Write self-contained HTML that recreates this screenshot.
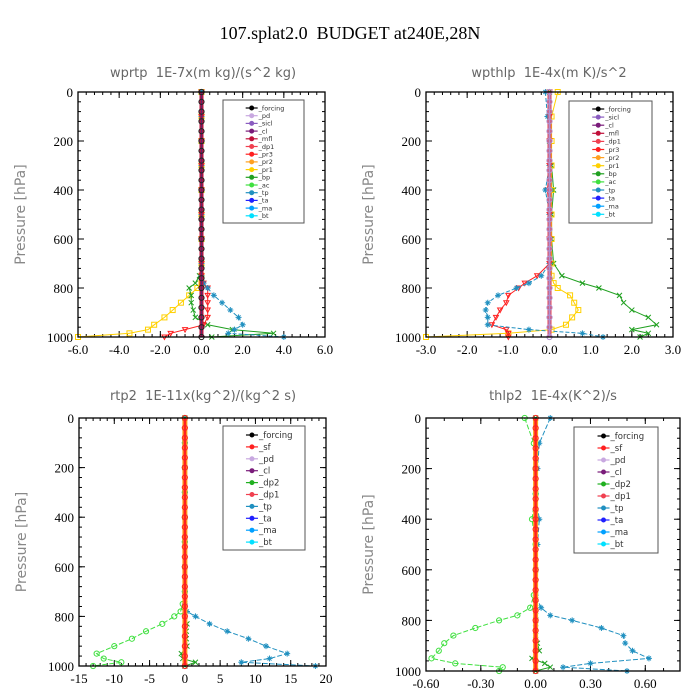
<!DOCTYPE html>
<html><head><meta charset="utf-8">
<style>
html,body{margin:0;padding:0;background:#fff;}
svg{display:block;}
text{white-space:pre;}
.tk{font-family:"Liberation Serif",serif;font-size:13px;fill:#000;}
.ttl{font-family:"DejaVu Sans","Liberation Sans",sans-serif;font-size:13px;fill:#666;}
.yl{font-family:"DejaVu Sans","Liberation Sans",sans-serif;font-size:14px;fill:#888;}
.lg{font-family:"DejaVu Sans","Liberation Sans",sans-serif;fill:#333;}
</style></head>
<body>
<svg id="chart" width="700" height="700" viewBox="0 0 700 700">
<text x="350" y="39" text-anchor="middle" font-family="Liberation Serif,serif" font-size="18" xml:space="preserve">107.splat2.0  BUDGET at240E,28N</text>
</svg>
<script>
// ---------- data ----------
const levelsDense = [0,40,80,120,160,200,240,280,320,360,400,440,480,520,560,600,640,680,720,760,800,840,880,920,960,1000];
const zerosDense  = [0,0,0,0,0,0,0,0,0,0,0,0,0,0,0,0,0,0,0,0,0,0,0,0,0,0];
const levelsLow = [0,100,200,300,400,500,600,700,750,780,800,830,860,890,920,950,970,985,1000];

// panel 1: wprtp
const p1Pr1 = [0,0,0,0,0,0,0,0,0,0,-0.2,-0.6,-1.0,-1.4,-1.8,-2.3,-2.6,-3.5,-6.0];
const p1Bp  = [0,0,0,0,0,0,0,0,-0.1,-0.3,-0.6,-0.5,-0.5,-0.4,-0.3,0.3,1.5,3.5,0.5];
const p1Pr3 = [0,0,0,0,0,0,0,0,0,0.1,0.3,0.3,0.3,0.3,0.3,0.1,-0.8,-1.5,-1.8];
const p1Tp  = [0,0,0,0,0,0,0,0,0,0.1,0.3,0.6,1.0,1.4,1.8,2.0,1.6,1.3,4.0];

// panel 2: wpthlp
const p2Bp  = [0,0,0,0.05,0.1,0.05,0.05,0.1,0.3,0.8,1.2,1.7,1.8,2.0,2.4,2.6,2.0,2.4,2.2];
const p2Pr1 = [0.2,0.05,0.05,0.05,0.05,0.05,0.05,0.05,0.05,0.1,0.2,0.5,0.6,0.7,0.55,0.4,0.05,-1.0,-3.0];
const p2Pr3 = [0,0,0,0,-0.05,0,0,0,-0.3,-0.6,-0.75,-1.0,-1.05,-1.2,-1.3,-1.4,-1.05,-1.0,-1.0];
const p2Tp  = [-0.1,-0.05,0,0,-0.1,0,0,0,-0.2,-0.5,-0.8,-1.25,-1.5,-1.55,-1.5,-1.5,-0.5,0.8,1.3];

// panel 3: rtp2
const p3Dp1 = [0,0,0,0,0,0,0,0,-0.3,-0.6,-1.5,-3.2,-5.5,-7.5,-10,-12.5,-11.5,-9,-13];
const p3Tp  = [0,0,0,0,0,0,0,0,0,0.3,1.5,3.5,6,9,11.5,14.5,12,8,18.5];
const p3Dp2 = [0,0,0,0,0,0,0,0,0,0,0,0.3,0.2,0.2,0.3,-0.5,-0.3,1.5,0];

// panel 4: thlp2
const p4Dp1 = [-0.06,-0.01,0,0,-0.02,0,0,-0.01,-0.03,-0.1,-0.2,-0.33,-0.45,-0.5,-0.53,-0.57,-0.44,-0.18,-0.2];
const p4Tp  = [0.08,0.02,0.01,0,0.02,0.01,0,0,0.03,0.08,0.2,0.36,0.48,0.49,0.53,0.62,0.3,0.15,0.5];
const p4Dp2 = [0,0,0,0,0,0,0,0,0,0,0,0,0,0.01,0.02,-0.02,0.05,0.08,0];

const legend1 = ["_forcing","_pd","_sicl","_cl","_mfl","_dp1","_pr3","_pr2","_pr1","_bp","_ac","_tp","_ta","_ma","_bt"];
const legend2 = ["_forcing","_sicl","_cl","_mfl","_dp1","_pr3","_pr2","_pr1","_bp","_ac","_tp","_ta","_ma","_bt"];
const legend3 = ["_forcing","_sf","_pd","_cl","_dp2","_dp1","_tp","_ta","_ma","_bt"];
const legend4 = legend3;
const xTicks1 = [-6,-4,-2,0,2,4,6];
const xTickLabels1 = ["-6.0","-4.0","-2.0","0.0","2.0","4.0","6.0"];
const xTicks2 = [-3,-2,-1,0,1,2,3];
const xTickLabels2 = ["-3.0","-2.0","-1.0","0.0","1.0","2.0","3.0"];
const xTicks3 = [-15,-10,-5,0,5,10,15,20];
const xTickLabels3 = ["-15","-10","-5","0","5","10","15","20"];
const xTicks4 = [-0.6,-0.3,0,0.3,0.6];
const xTickLabels4 = ["-0.60","-0.30","0.00","0.30","0.60"];
const yTicks = [0,200,400,600,800,1000];

const colorMap = {"_forcing":"#000","_pd":"#c8a8e0","_sicl":"#8a5cc0","_cl":"#7a1c7a","_mfl":"#c0103a","_dp1":"#f04050","_pr3":"#ff2020","_pr2":"#ffa020","_pr1":"#ffd000","_bp":"#20a020","_ac":"#40e040","_tp":"#2090c0","_ta":"#2020ff","_ma":"#00a0ff","_bt":"#00e0ff","_sf":"#ff2020","_dp2":"#20b020"};

const svg = document.getElementById('chart');
const NS = 'http://www.w3.org/2000/svg';
function mk(tag, attrs, parent){const e=document.createElementNS(NS,tag);for(const k in attrs)e.setAttribute(k,attrs[k]);(parent||svg).appendChild(e);return e;}

function panel(cfg){
  const g = mk('g',{});
  
  
  const {x0,x1,y0,y1,xmin,xmax} = cfg;
  const sx = v => x0 + (v - xmin) / (xmax - xmin) * (x1 - x0);
  const sy = p => y0 + p / 1000 * (y1 - y0);
  const t = mk('text',{x:cfg.titleX,y:cfg.titleY,'text-anchor':'middle',class:'ttl'},g);
  t.textContent = cfg.title;
  
  
  const yl = mk('text',{x:0,y:0,'text-anchor':'middle',class:'yl',transform:`translate(${x0-53},${(y0+y1)/2}) rotate(-90)`},g);
  yl.textContent = 'Pressure [hPa]';
  
  
  for (let p = 0; p <= 1000; p += 40) {
    mk('line',{x1:x0,x2:x0+3,y1:sy(p),y2:sy(p),stroke:'#000','stroke-width':1},g);
    mk('line',{x1:x1,x2:x1-3,y1:sy(p),y2:sy(p),stroke:'#000','stroke-width':1},g);
  }
  yTicks.forEach(p=>{
    mk('line',{x1:x0,x2:x0+6,y1:sy(p),y2:sy(p),stroke:'#000'},g);
    mk('line',{x1:x1,x2:x1-6,y1:sy(p),y2:sy(p),stroke:'#000'},g);
    const tl = mk('text',{x:x0-5,y:sy(p)+5,'text-anchor':'end',class:'tk'},g);
    tl.textContent = p;
    
    
  });
  const step = (cfg.xTicks[1]-cfg.xTicks[0])/cfg.minorN;
  for (let v = xmin; v <= xmax + 1e-9; v += step) {
    mk('line',{x1:sx(v),x2:sx(v),y1:y1,y2:y1-3,stroke:'#000'},g);
    mk('line',{x1:sx(v),x2:sx(v),y1:y0,y2:y0+3,stroke:'#000'},g);
  }
  cfg.xTicks.forEach((v,i)=>{
    mk('line',{x1:sx(v),x2:sx(v),y1:y1,y2:y1-6,stroke:'#000'},g);
    mk('line',{x1:sx(v),x2:sx(v),y1:y0,y2:y0+6,stroke:'#000'},g);
    const tl = mk('text',{x:sx(v),y:y1+17,'text-anchor':'middle',class:'tk'},g);
    tl.textContent = cfg.xTickLabels[i];
    
    
  });
  cfg.series.forEach(s=>{
    const pts = s.levels.map((p,i)=>sx(s.values[i]).toFixed(1)+','+sy(p).toFixed(1)).join(' ');
    const pl = mk('polyline',{points:pts,fill:'none',stroke:s.color,'stroke-width':s.width||1,'stroke-dasharray':s.dash||'none'},g);
    
    
    s.levels.forEach((p,i)=>{
      const cx = sx(s.values[i]), cy = sy(p);
      if (s.marker==='circle') mk('circle',{cx,cy,r:2.6,fill:'none',stroke:s.mcolor||s.color,'stroke-width':1},g);
      else if (s.marker==='square') mk('rect',{x:cx-2.5,y:cy-2.5,width:5,height:5,fill:'none',stroke:s.color},g);
      else if (s.marker==='x') mk('path',{d:`M${cx-2.5} ${cy-2.5}L${cx+2.5} ${cy+2.5}M${cx-2.5} ${cy+2.5}L${cx+2.5} ${cy-2.5}`,stroke:s.color},g);
      else if (s.marker==='tri') mk('path',{d:`M${cx-2.5} ${cy-2}L${cx+2.5} ${cy-2}L${cx} ${cy+2.5}Z`,fill:'none',stroke:s.color},g);
      else if (s.marker==='star') mk('path',{d:`M${cx-3} ${cy}L${cx+3} ${cy}M${cx} ${cy-3}L${cx} ${cy+3}M${cx-2} ${cy-2}L${cx+2} ${cy+2}M${cx-2} ${cy+2}L${cx+2} ${cy-2}`,stroke:s.color},g);
    });
  });
  mk('rect',{x:x0,y:y0,width:x1-x0,height:y1-y0,fill:'none',stroke:'#000','stroke-width':1.3},g);
  const L = cfg.legend;
  const lg = mk('g',{},g);
  
  
  mk('rect',{x:L.x,y:L.y,width:L.w,height:L.h,fill:'#fff',stroke:'#555','stroke-width':1},lg);
  L.items.forEach((name,i)=>{
    const yy = L.y + L.first + i*L.gap;
    const c = colorMap[name];
    const e = mk('g',{},lg);
    
    
    mk('line',{x1:L.x+L.w*0.28,x2:L.x+L.w*0.28+12,y1:yy,y2:yy,stroke:c,'stroke-width':1.2},e);
    mk('circle',{cx:L.x+L.w*0.28+6,cy:yy,r:2,fill:c,stroke:c},e);
    const tx = mk('text',{x:L.x+L.w*0.28+13,y:yy+L.fs*0.35,class:'lg','font-size':L.fs},e);
    tx.textContent = name;
  });
}

panel({name:'panel-wprtp',title:'wprtp  1E-7x(m kg)/(s^2 kg)',titleX:203,titleY:77,x0:78,x1:325,y0:92,y1:337,xmin:-6,xmax:6,xTicks:xTicks1,xTickLabels:xTickLabels1,minorN:5,
  series:[
    {key:'_pr1',levels:levelsLow,values:p1Pr1,color:'#ffd000',marker:'square'},
    {key:'_bp',levels:levelsLow,values:p1Bp,color:'#20a020',marker:'x'},
    {key:'_pr3',levels:levelsLow,values:p1Pr3,color:'#ff2020',marker:'tri'},
    {key:'_tp',levels:levelsLow,values:p1Tp,color:'#2090c0',marker:'star',dash:'4 2'},
    {key:'_mfl',levels:levelsDense,values:zerosDense,color:'#c0103a',width:4},
    {key:'_forcing',levels:levelsDense,values:zerosDense,color:'#5a2a6a',mcolor:'#222',marker:'circle',width:1.5}
  ],
  legend:{x:223,y:100,w:81,h:123,first:8,gap:7.7,fs:6.5,items:legend1}});

panel({name:'panel-wpthlp',title:'wpthlp  1E-4x(m K)/s^2',titleX:549,titleY:77,x0:426,x1:673,y0:92,y1:337,xmin:-3,xmax:3,xTicks:xTicks2,xTickLabels:xTickLabels2,minorN:5,
  series:[
    {key:'_bp',levels:levelsLow,values:p2Bp,color:'#20a020',marker:'x'},
    {key:'_pr1',levels:levelsLow,values:p2Pr1,color:'#ffd000',marker:'square'},
    {key:'_pr3',levels:levelsLow,values:p2Pr3,color:'#ff2020',marker:'tri'},
    {key:'_tp',levels:levelsLow,values:p2Tp,color:'#2090c0',marker:'star',dash:'4 2'},
    {key:'_mfl',levels:levelsDense,values:zerosDense,color:'#e04050',width:4},
    {key:'_forcing',levels:levelsDense,values:zerosDense,color:'#b090d0',marker:'circle',width:2}
  ],
  legend:{x:569,y:101,w:83,h:122,first:8,gap:8.1,fs:6.5,items:legend2}});

panel({name:'panel-rtp2',title:'rtp2  1E-11x(kg^2)/(kg^2 s)',titleX:203,titleY:400,x0:79,x1:326,y0:418,y1:666,xmin:-15,xmax:20,xTicks:xTicks3,xTickLabels:xTickLabels3,minorN:5,
  series:[
    {key:'_dp1',levels:levelsLow,values:p3Dp1,color:'#40e040',marker:'circle',dash:'5 2'},
    {key:'_tp',levels:levelsLow,values:p3Tp,color:'#2090c0',marker:'star',dash:'5 2'},
    {key:'_dp2',levels:levelsLow,values:p3Dp2,color:'#20a020',marker:'x'},
    {key:'_pd',levels:levelsDense,values:zerosDense,color:'#ffa020',width:5},
    {key:'_forcing',levels:levelsDense,values:zerosDense,color:'#ff2020',marker:'circle',width:2.5}
  ],
  legend:{x:223,y:426,w:82,h:124,first:9,gap:11.9,fs:8.5,items:legend3}});

panel({name:'panel-thlp2',title:'thlp2  1E-4x(K^2)/s',titleX:553,titleY:400,x0:426,x1:680,y0:418,y1:671,xmin:-0.6,xmax:0.79,xTicks:xTicks4,xTickLabels:xTickLabels4,minorN:3,
  series:[
    {key:'_dp1',levels:levelsLow,values:p4Dp1,color:'#40e040',marker:'circle',dash:'5 2'},
    {key:'_tp',levels:levelsLow,values:p4Tp,color:'#2090c0',marker:'star',dash:'5 2'},
    {key:'_dp2',levels:levelsLow,values:p4Dp2,color:'#20a020',marker:'x'},
    {key:'_pd',levels:levelsDense,values:zerosDense,color:'#ffa020',width:5},
    {key:'_forcing',levels:levelsDense,values:zerosDense,color:'#ff2020',marker:'circle',width:2.5}
  ],
  legend:{x:574,y:427,w:84,h:126,first:9,gap:12,fs:8.5,items:legend4}});
</script>
</body></html>
